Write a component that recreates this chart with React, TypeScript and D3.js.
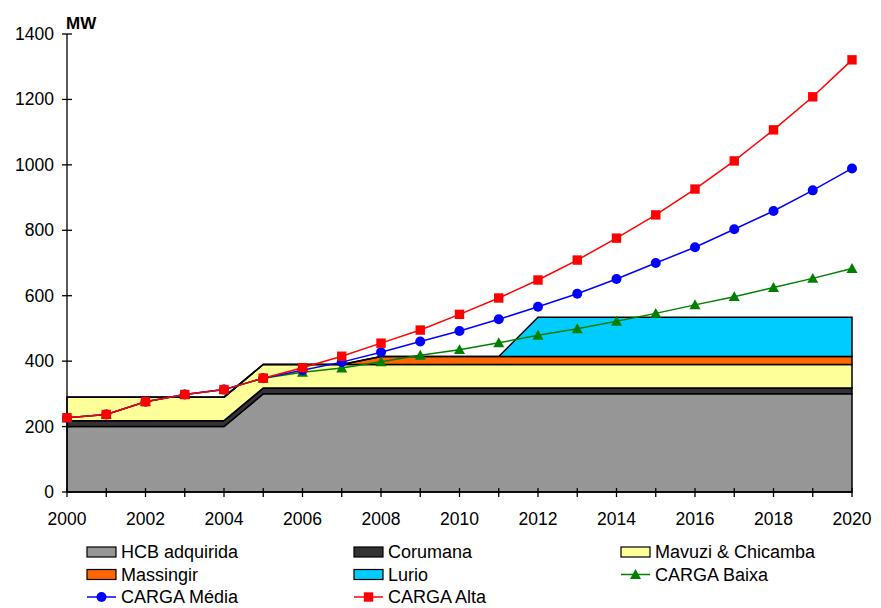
import React from "react";
import * as d3 from "d3";

const years = d3.range(2000, 2021);
const hcb = [200, 200, 200, 200, 200, 300, 300, 300, 300, 300, 300, 300, 300, 300, 300, 300, 300, 300, 300, 300, 300];
const corumana = [18, 18, 18, 18, 18, 18, 18, 18, 18, 18, 18, 18, 18, 18, 18, 18, 18, 18, 18, 18, 18];
const mavuzi = [72, 72, 72, 72, 72, 72, 72, 72, 72, 72, 72, 72, 72, 72, 72, 72, 72, 72, 72, 72, 72];
const massingir = [0, 0, 0, 0, 0, 0, 0, 0, 24, 24, 24, 24, 24, 24, 24, 24, 24, 24, 24, 24, 24];
const lurio = [0, 0, 0, 0, 0, 0, 0, 0, 0, 0, 0, 0, 120, 120, 120, 120, 120, 120, 120, 120, 120];

const cargaBaixa = [227, 237, 276, 298, 313, 348, 366, 379, 398, 418, 435, 456, 479, 499, 522, 546, 572, 597, 625, 653, 683];
const cargaMedia = [227, 237, 276, 298, 313, 348, 372, 397, 427, 460, 492, 528, 566, 606, 651, 700, 748, 803, 859, 922, 989];
const cargaAlta = [227, 237, 276, 298, 313, 348, 380, 415, 455, 495, 543, 593, 648, 709, 776, 847, 926, 1012, 1107, 1208, 1321];

const yTicks = [0, 200, 400, 600, 800, 1000, 1200, 1400];
const xLabelYears = [2000, 2002, 2004, 2006, 2008, 2010, 2012, 2014, 2016, 2018, 2020];

const areaSeries = [
  { key: "hcb", name: "HCB adquirida", values: hcb, color: "#969696" },
  { key: "corumana", name: "Corumana", values: corumana, color: "#333333" },
  { key: "mavuzi", name: "Mavuzi & Chicamba", values: mavuzi, color: "#FFFF99" },
  { key: "massingir", name: "Massingir", values: massingir, color: "#FF6600" },
  { key: "lurio", name: "Lurio", values: lurio, color: "#00CCFF" },
];

const lineSeries = [
  { name: "CARGA Baixa", values: cargaBaixa, color: "#008000", marker: "triangle" },
  { name: "CARGA Média", values: cargaMedia, color: "#0000FF", marker: "circle" },
  { name: "CARGA Alta", values: cargaAlta, color: "#FF0000", marker: "square" },
];

const FONT = "'Liberation Sans', Arial, Helvetica, sans-serif";

function Marker({ type, x, y, color }: { type: string; x: number; y: number; color: string }) {
  if (type === "circle") return <circle cx={x} cy={y} r={5} fill={color} />;
  if (type === "square") return <rect x={x - 4.7} y={y - 4.7} width={9.4} height={9.4} fill={color} />;
  const s = 5.5;
  return <path d={`M${x},${y - s}L${x + s},${y + s * 0.8}L${x - s},${y + s * 0.8}Z`} fill={color} />;
}

export default function App() {
  const x = d3.scaleLinear().domain([2000, 2020]).range([67, 852]);
  const y = d3.scaleLinear().domain([0, 1400]).range([492, 34]);

  const table = years.map((yr, i) => {
    const row: any = { year: yr };
    areaSeries.forEach((s) => (row[s.key] = s.values[i]));
    return row;
  });
  const stacked = d3.stack().keys(areaSeries.map((s) => s.key))(table as any);
  const area = d3
    .area<any>()
    .x((d) => x(d.data.year))
    .y0((d) => y(d[0]))
    .y1((d) => y(d[1]));

  const line = d3
    .line<number>()
    .x((_, i) => x(years[i]))
    .y((d) => y(d));

  const legendItems: any[] = [
    { ...areaSeries[0], kind: "area" },
    { ...areaSeries[1], kind: "area" },
    { ...areaSeries[2], kind: "area" },
    { ...areaSeries[3], kind: "area" },
    { ...areaSeries[4], kind: "area" },
    { ...lineSeries[0], kind: "line" },
    { ...lineSeries[1], kind: "line" },
    { ...lineSeries[2], kind: "line" },
  ];
  const colX = [87, 354, 621];
  const rowY = [552, 574.5, 597];

  return (
    <svg width={881} height={608} style={{ position: "absolute", left: 0, top: 0, background: "#fff" }} fontFamily={FONT}>
      <rect width={881} height={608} fill="#fff" />
      {stacked.map((layer, i) => (
        <path key={areaSeries[i].key} d={area(layer as any) || ""} fill={areaSeries[i].color} stroke="#000" strokeWidth={1.5} strokeLinejoin="miter" />
      ))}
      {/* axes */}
      <line x1={67} x2={67} y1={y(1400)} y2={y(0)} stroke="#000" strokeWidth={1.3} />
      <line x1={67} x2={852} y1={y(0)} y2={y(0)} stroke="#000" strokeWidth={1.3} />
      {yTicks.map((t) => (
        <g key={t}>
          <line x1={62} x2={72} y1={y(t)} y2={y(t)} stroke="#000" strokeWidth={1.3} />
          <text x={54} y={y(t) + 6} textAnchor="end" fontSize={17.5} fill="#000">
            {t}
          </text>
        </g>
      ))}
      {years.map((yr) => (
        <line key={yr} x1={x(yr)} x2={x(yr)} y1={488} y2={497} stroke="#000" strokeWidth={1.3} />
      ))}
      {xLabelYears.map((yr) => (
        <text key={yr} x={x(yr)} y={525} textAnchor="middle" fontSize={17.5} fill="#000">
          {yr}
        </text>
      ))}
      <text x={66} y={29} fontSize={17} fontWeight="bold" fill="#000">
        MW
      </text>
      {/* load lines */}
      {lineSeries.map((s) => (
        <g key={s.name}>
          <path d={line(s.values) || ""} fill="none" stroke={s.color} strokeWidth={1.5} />
          {s.values.map((v, i) => (
            <Marker key={i} type={s.marker} x={x(years[i])} y={y(v)} color={s.color} />
          ))}
        </g>
      ))}
      {/* legend */}
      {legendItems.map((it, i) => {
        const cx = colX[i % 3];
        const cy = rowY[Math.floor(i / 3)];
        return (
          <g key={it.name}>
            {it.kind === "area" ? (
              <rect x={cx} y={cy - 5} width={29} height={10} fill={it.color} stroke="#000" strokeWidth={1.2} />
            ) : (
              <g>
                <line x1={cx} x2={cx + 29} y1={cy} y2={cy} stroke={it.color} strokeWidth={1.5} />
                <Marker type={it.marker} x={cx + 14.5} y={cy} color={it.color} />
              </g>
            )}
            <text x={cx + 34} y={cy + 6} fontSize={18} fill="#000">
              {it.name}
            </text>
          </g>
        );
      })}
    </svg>
  );
}
